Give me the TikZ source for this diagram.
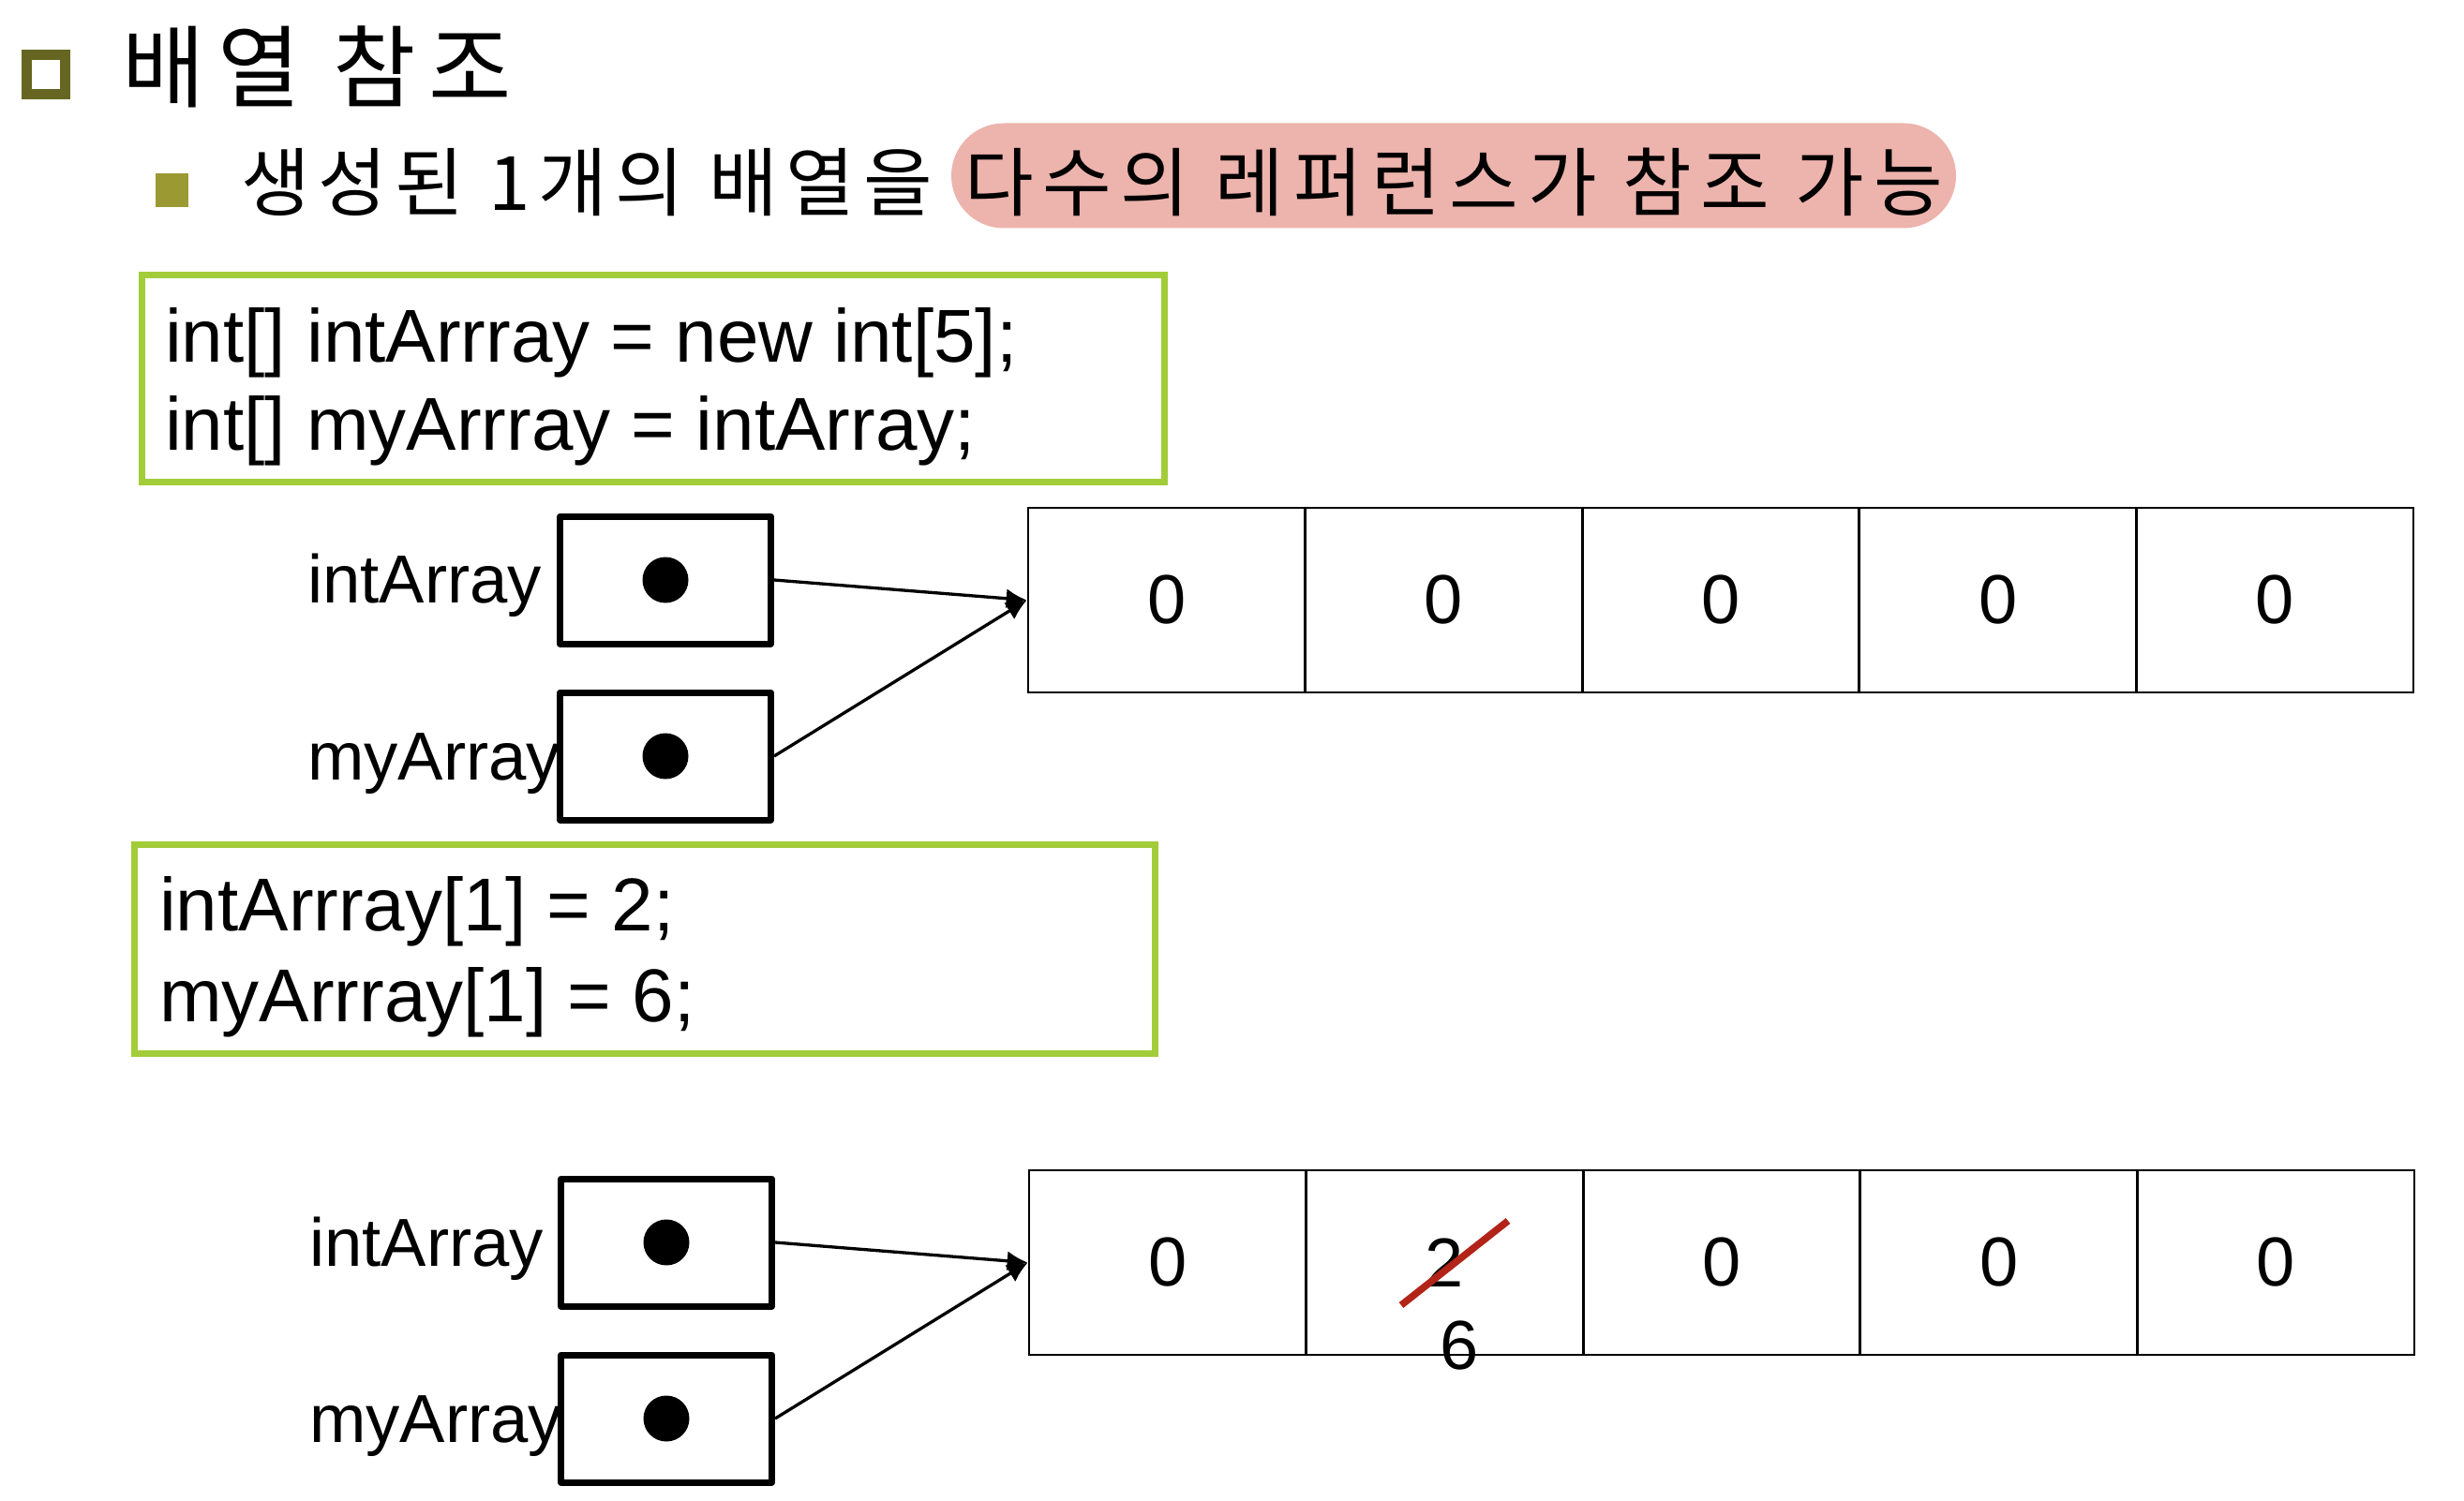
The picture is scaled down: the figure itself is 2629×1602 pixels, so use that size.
\documentclass[tikz,border=0pt]{standalone}
\usepackage{fontspec}
\setmainfont{Liberation Sans}
\newfontfamily\krfont{Noto Sans CJK KR}
\usetikzlibrary{arrows.meta}
\definecolor{titlebul}{RGB}{102,102,34}
\definecolor{subbul}{RGB}{155,154,50}
\definecolor{codegreen}{RGB}{163,204,57}
\definecolor{pillpink}{RGB}{237,179,173}
\definecolor{strikered}{RGB}{178,36,24}
\begin{document}
\begin{tikzpicture}[x=1pt,y=-1pt,
  codebox/.style={draw=codegreen, line width=7pt, inner sep=0pt},
  codetext/.style={anchor=base west, inner sep=0pt, font=\fontsize{80}{95}\selectfont},
  varlabel/.style={anchor=base west, inner sep=0pt, font=\fontsize{72.5}{80}\selectfont},
  refbox/.style={draw, line width=7pt, line join=round, minimum width=225pt, minimum height=136pt, inner sep=0pt},
  refdot/.style={circle, fill=black, minimum size=49pt, inner sep=0pt},
  cell/.style={draw, line width=2.7pt, minimum width=295.6pt, minimum height=197pt, inner sep=0pt, font=\fontsize{74}{80}\selectfont},
  refarrow/.style={-{Latex[length=22pt,width=21pt]}, line width=3.3pt},
  krtitle/.style={anchor=base west, inner sep=0pt, font=\krfont\addfontfeature{LetterSpace=14.2}\fontsize{96}{110}\selectfont},
  krsub/.style={anchor=base west, inner sep=0pt, font=\krfont\addfontfeature{LetterSpace=10.7}\fontsize{80}{96}\selectfont},
  krhl/.style={anchor=base west, inner sep=0pt, font=\krfont\addfontfeature{LetterSpace=12.1}\fontsize{80}{96}\selectfont}
]
\useasboundingbox (0,0) rectangle (2629,1602);
\fill[white] (0,0) rectangle (2629,1602);

% title
\node[draw=titlebul, line width=11pt, minimum width=41pt, minimum height=42pt, inner sep=0pt] (tbul) at (49,79.5) {};
\node[krtitle] (title) at (130,108) {배열 참조};
\node[fill=subbul, minimum width=35pt, minimum height=36pt, inner sep=0pt] (sbul) at (183.5,203) {};
\node[krsub] (sub) at (257,225) {생성된 1개의 배열을};
\node[fill=pillpink, rounded corners=56pt, minimum width=1072pt, minimum height=112pt, inner sep=0pt] (pill) at (1551,187.5) {};
\node[krhl] (subhl) at (1029,225) {다수의 레퍼런스가 참조 가능};

% code box 1
\node[codebox, minimum width=1091pt, minimum height=221pt] (code1) at (697,404) {};
\node[codetext] (code1a) at (176,387) {int[] intArrray = new int[5];};
\node[codetext] (code1b) at (176,480) {int[] myArrray = intArray;};

% top group
\node[varlabel] (l1) at (328,643) {intArray};
\node[varlabel] (l2) at (328,832) {myArray};
\node[refbox] (b1) at (710,619) {};
\node[refbox] (b2) at (710,807) {};
\node[refdot] (d1) at (b1.center) {};
\node[refdot] (d2) at (b2.center) {};
\node[cell] (c11) at (1244.8,640.5) {0};
\node[cell] (c12) at (1540.4,640.5) {0};
\node[cell] (c13) at (1836.0,640.5) {0};
\node[cell] (c14) at (2131.6,640.5) {0};
\node[cell] (c15) at (2427.2,640.5) {0};
\draw[refarrow] (b1.east) -- (c11.west);
\draw[refarrow] (b2.east) -- (c11.west);

% code box 2
\node[codebox, minimum width=1088.5pt, minimum height=223pt] (code2) at (688,1013) {};
\node[codetext] (code2a) at (170,993) {intArrray[1] = 2;};
\node[codetext] (code2b) at (170,1090) {myArrray[1] = 6;};

% bottom group
\node[varlabel] (l3) at (330,1351) {intArray};
\node[varlabel] (l4) at (330,1539) {myArray};
\node[refbox] (b3) at (711,1326) {};
\node[refbox] (b4) at (711,1514) {};
\node[refdot] (d3) at (b3.center) {};
\node[refdot] (d4) at (b4.center) {};
\node[cell] (c21) at (1245.8,1347.5) {0};
\node[cell] (c22) at (1541.4,1347.5) {2};
\node[cell] (c23) at (1837.0,1347.5) {0};
\node[cell] (c24) at (2132.6,1347.5) {0};
\node[cell] (c25) at (2428.2,1347.5) {0};
\draw[refarrow] (b3.east) -- (c21.west);
\draw[refarrow] (b4.east) -- (c21.west);
\node[inner sep=0pt, font=\fontsize{74}{80}\selectfont] (six) at (1557,1436) {6};
\coordinate (s1) at (1495,1393);
\coordinate (s2) at (1609,1303);
\draw[strikered, line width=7.5pt] (s1) -- (s2);
\end{tikzpicture}
\end{document}
